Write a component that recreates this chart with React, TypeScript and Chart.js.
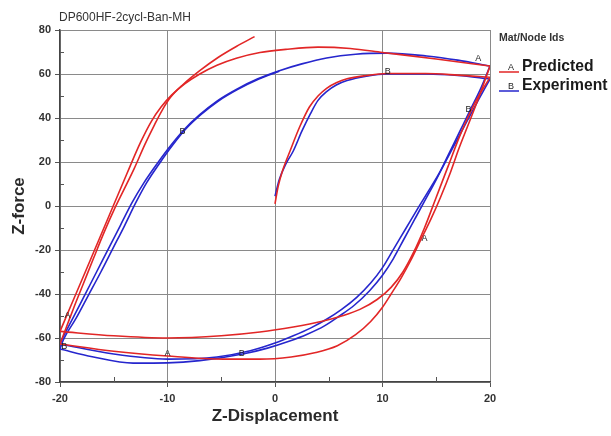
import React, { useEffect, useRef } from "react";
import { Chart, registerables } from "chart.js";
Chart.register(...registerables);

type P = [number, number];

// ---- Tick values ----
const xMinorTicks = [-15, -5, 5, 15];
const yMinorTicks = [-70, -50, -30, -10, 10, 30, 50, 70];

// ---- Predicted (A) ----
const predictedLoading: P[] = [[0,1],[0.3,9],[0.7,16],[1.4,25],[2.3,36],[3.2,45],[4,50],[4.8,53.5],[5.7,56],[6.7,57.8],[8.5,59.3],[10.4,60.2],[14,60.2],[17,59.5],[20,58.5]];
const predictedUnload1: P[] = [[20,58.5],[18.5,46],[17.2,32],[16.1,18],[15,4],[13.9,-10],[12.9,-21],[11.9,-30],[10.8,-37],[9.5,-42.5],[7.9,-47],[6.2,-50],[4.4,-52.4],[1.7,-55],[-1.4,-57.3],[-5,-59],[-10,-60],[-15,-59],[-20,-57]];
const predictedReload1: P[] = [[-20,-57],[-18.96,-45],[-17.65,-30],[-16.35,-15],[-15.05,0],[-13.75,15],[-12.5,29],[-11.5,38.5],[-10.6,45],[-9.6,50.5],[-8.4,55.5],[-7,60],[-5.4,64],[-3.6,67.2],[-1.4,69.8],[1,71.2],[4,72.2],[7,71.6],[10,69.8],[15,66.8],[20,63.6]];
const predictedUnload2: P[] = [[20,63.6],[19.3,54],[18.7,46],[17.9,36],[17.1,26],[16.3,15],[15.4,4],[14.5,-6],[13.5,-16],[12.6,-25],[11.7,-33],[10.8,-40],[10,-46],[8.9,-52.5],[7.5,-58.5],[5.8,-63.5],[3.8,-66.6],[1.5,-68.6],[-1.4,-69.6],[-4.8,-69.6],[-10,-68.2],[-15,-66],[-20,-62.7]];
const predictedReload2: P[] = [[-20,-62.7],[-19.4,-55],[-18.7,-46],[-17.8,-35],[-16.9,-24],[-15.9,-12],[-14.9,-1],[-14.1,7],[-13.1,17],[-12.1,28],[-11.2,37],[-10.5,43.5],[-9.7,49.5],[-8.6,55],[-7,61.5],[-5.3,67.5],[-3.6,72.5],[-1.9,77]];

// ---- Experiment (B) ----
const experimentLoading: P[] = [[0,4.5],[0.4,12],[1,19],[1.7,25],[2.5,34],[3.3,42],[4,48],[4.8,52],[5.7,55],[6.7,57],[8.5,59],[10.4,60],[14.1,60],[17,59.3],[20,57.7]];
const experimentUnload1: P[] = [[20,57.7],[18.9,48],[17.8,38],[16.6,27],[15.4,16],[14.3,7],[13.3,-1],[12.2,-10],[11.1,-19],[10,-28],[8.9,-35],[7.6,-41.5],[6.2,-47],[4.8,-51.5],[3.3,-55.5],[1.7,-59],[0,-62.3],[-2.3,-65.8],[-5.4,-68.6],[-10,-69.6],[-15,-67.3],[-20,-62.7]];
const experimentReload1: P[] = [[-20,-62.7],[-19.85,-61],[-18.8,-51],[-17.7,-40.5],[-16.6,-30],[-15.5,-19.5],[-14.4,-9],[-13.3,1.5],[-12.2,10.5],[-11,19],[-9.7,27.5],[-8.4,35],[-7,41.5],[-5.4,47.7],[-3.6,53],[-1.6,57.8],[0.4,61.5],[2.5,64.6],[4.8,67.3],[7.5,69],[10.4,69.5],[14.1,68.2],[17,66.3],[20,63.6]];
const experimentUnload2: P[] = [[20,63.6],[19.1,53],[18.2,44],[17.2,34],[16.1,23],[15,12],[14,3],[13,-6],[12,-15],[11,-24],[10,-31.5],[8.8,-38.5],[7.4,-45],[6,-50],[4.6,-54.5],[3,-58.3],[1.3,-61.5],[-0.7,-64.6],[-3,-67.3],[-7,-70.3],[-10,-71.3],[-13.2,-71.4],[-17,-68.5],[-20,-65]];
const experimentReload2: P[] = [[-20,-65],[-19.7,-61],[-18.5,-51],[-17.35,-40.5],[-16.2,-30],[-15.1,-19.5],[-14,-9],[-12.95,1.5],[-11.95,10.5],[-10.8,19],[-9.55,27.5],[-8.3,35],[-6.9,41.5],[-5.3,47.6],[-3.5,52.9],[-1.5,57.7],[0.4,61.3]];

// ---- Curve id labels ----
const labelsA: P[] = [[18.9,67],[13.9,-15],[-10,-67],[-19.3,-50]];
const labelsB: P[] = [[10.5,61],[-8.6,34],[18,44],[-3.1,-67],[-19.6,-64]];

const RED = "rgb(226,38,38)";
const BLUE = "rgb(38,38,205)";
const FONT = '"Liberation Sans", Arial, sans-serif';

const toPts = (a: P[]) => a.map(([x, y]) => ({ x, y }));

const decorPlugin = {
  id: "decor",
  afterDraw(chart: any) {
    const { ctx, chartArea: a, scales } = chart;
    const xs = scales.x, ys = scales.y;
    ctx.save();
    ctx.strokeStyle = "#555";
    ctx.lineWidth = 1;
    xMinorTicks.forEach((v) => {
      const px = Math.round(xs.getPixelForValue(v)) + 0.5;
      ctx.beginPath(); ctx.moveTo(px, a.bottom); ctx.lineTo(px, a.bottom - 5); ctx.stroke();
    });
    yMinorTicks.forEach((v) => {
      const py = Math.round(ys.getPixelForValue(v)) + 0.5;
      ctx.beginPath(); ctx.moveTo(a.left, py); ctx.lineTo(a.left + 4, py); ctx.stroke();
    });
    ctx.fillStyle = "#222";
    ctx.font = `9px ${FONT}`;
    ctx.textAlign = "center";
    ctx.textBaseline = "middle";
    labelsA.forEach(([vx, vy]) => ctx.fillText("A", xs.getPixelForValue(vx), ys.getPixelForValue(vy)));
    labelsB.forEach(([vx, vy]) => ctx.fillText("B", xs.getPixelForValue(vx), ys.getPixelForValue(vy)));
    ctx.textAlign = "left";
    ctx.fillStyle = "#333";
    ctx.font = `12px ${FONT}`;
    ctx.fillText("DP600HF-2cycl-Ban-MH", a.left - 1, 18);
    const lx = a.right + 9;
    ctx.font = `bold 10.5px ${FONT}`;
    ctx.fillStyle = "#333";
    ctx.fillText("Mat/Node Ids", lx, 38);
    const entries: [string, string, string, number][] = [["A", "Predicted", RED, 67], ["B", "Experiment", BLUE, 86]];
    entries.forEach(([id, name, col, cy]) => {
      ctx.strokeStyle = col;
      ctx.lineWidth = 1.5;
      ctx.beginPath(); ctx.moveTo(lx, cy + 5); ctx.lineTo(lx + 20, cy + 5); ctx.stroke();
      ctx.fillStyle = "#222";
      ctx.font = `9px ${FONT}`;
      ctx.textAlign = "center";
      ctx.fillText(id, lx + 12, cy + 1);
      ctx.textAlign = "left";
      ctx.font = `bold 15.7px ${FONT}`;
      ctx.fillStyle = "#1a1a1a";
      ctx.fillText(name, lx + 23, cy);
    });
    ctx.restore();
  },
};

export default function App() {
  const ref = useRef<HTMLCanvasElement>(null);
  useEffect(() => {
    if (!ref.current) return;
    const ds = (d: P[], c: string) => ({
      data: toPts(d),
      borderColor: c,
      backgroundColor: c,
      borderWidth: 1.6,
      pointRadius: 0,
      showLine: true,
      cubicInterpolationMode: "monotone",
      fill: false,
    });
    const chart = new Chart(ref.current, {
      type: "scatter",
      data: {
        datasets: [
          ds(predictedLoading, RED),
          ds(predictedUnload1, RED),
          ds(predictedReload1, RED),
          ds(predictedUnload2, RED),
          ds(predictedReload2, RED),
          ds(experimentLoading, BLUE),
          ds(experimentUnload1, BLUE),
          ds(experimentReload1, BLUE),
          ds(experimentUnload2, BLUE),
          ds(experimentReload2, BLUE),
        ],
      },
      options: {
        responsive: false,
        animation: false,
        layout: { padding: { top: 30, right: 121, left: 0, bottom: 0 } },
        plugins: { legend: { display: false }, tooltip: { enabled: false }, title: { display: false } },
        scales: {
          x: {
            type: "linear",
            min: -20,
            max: 20,
            afterFit: (s: any) => { s.height = 54; },
            ticks: { stepSize: 10, color: "#333", padding: 5, font: { family: FONT, size: 11, weight: "bold" } },
            grid: { color: "#8a8a8a", lineWidth: 1, tickLength: 5, tickColor: "#555" },
            border: { display: true, color: "#444", width: 1.5 },
            title: { display: true, text: "Z-Displacement", color: "#2a2a2a", padding: { top: 0, bottom: 9 }, font: { family: FONT, size: 17, weight: "bold" } },
          },
          y: {
            type: "linear",
            min: -80,
            max: 80,
            afterFit: (s: any) => { s.width = 60; },
            ticks: { stepSize: 20, color: "#333", padding: 4, font: { family: FONT, size: 11, weight: "bold" } },
            grid: { color: "#8a8a8a", lineWidth: 1, tickLength: 5, tickColor: "#555" },
            border: { display: true, color: "#444", width: 1.5 },
            title: { display: true, text: "Z-force", color: "#2a2a2a", padding: { top: 9, bottom: 0 }, font: { family: FONT, size: 17, weight: "bold" } },
          },
        },
      } as any,
      plugins: [decorPlugin],
    });
    return () => chart.destroy();
  }, []);
  return (
    <div style={{ position: "absolute", left: 0, top: 0, width: 611, height: 436, background: "#fff" }}>
      <canvas ref={ref} width={611} height={436} />
    </div>
  );
}
